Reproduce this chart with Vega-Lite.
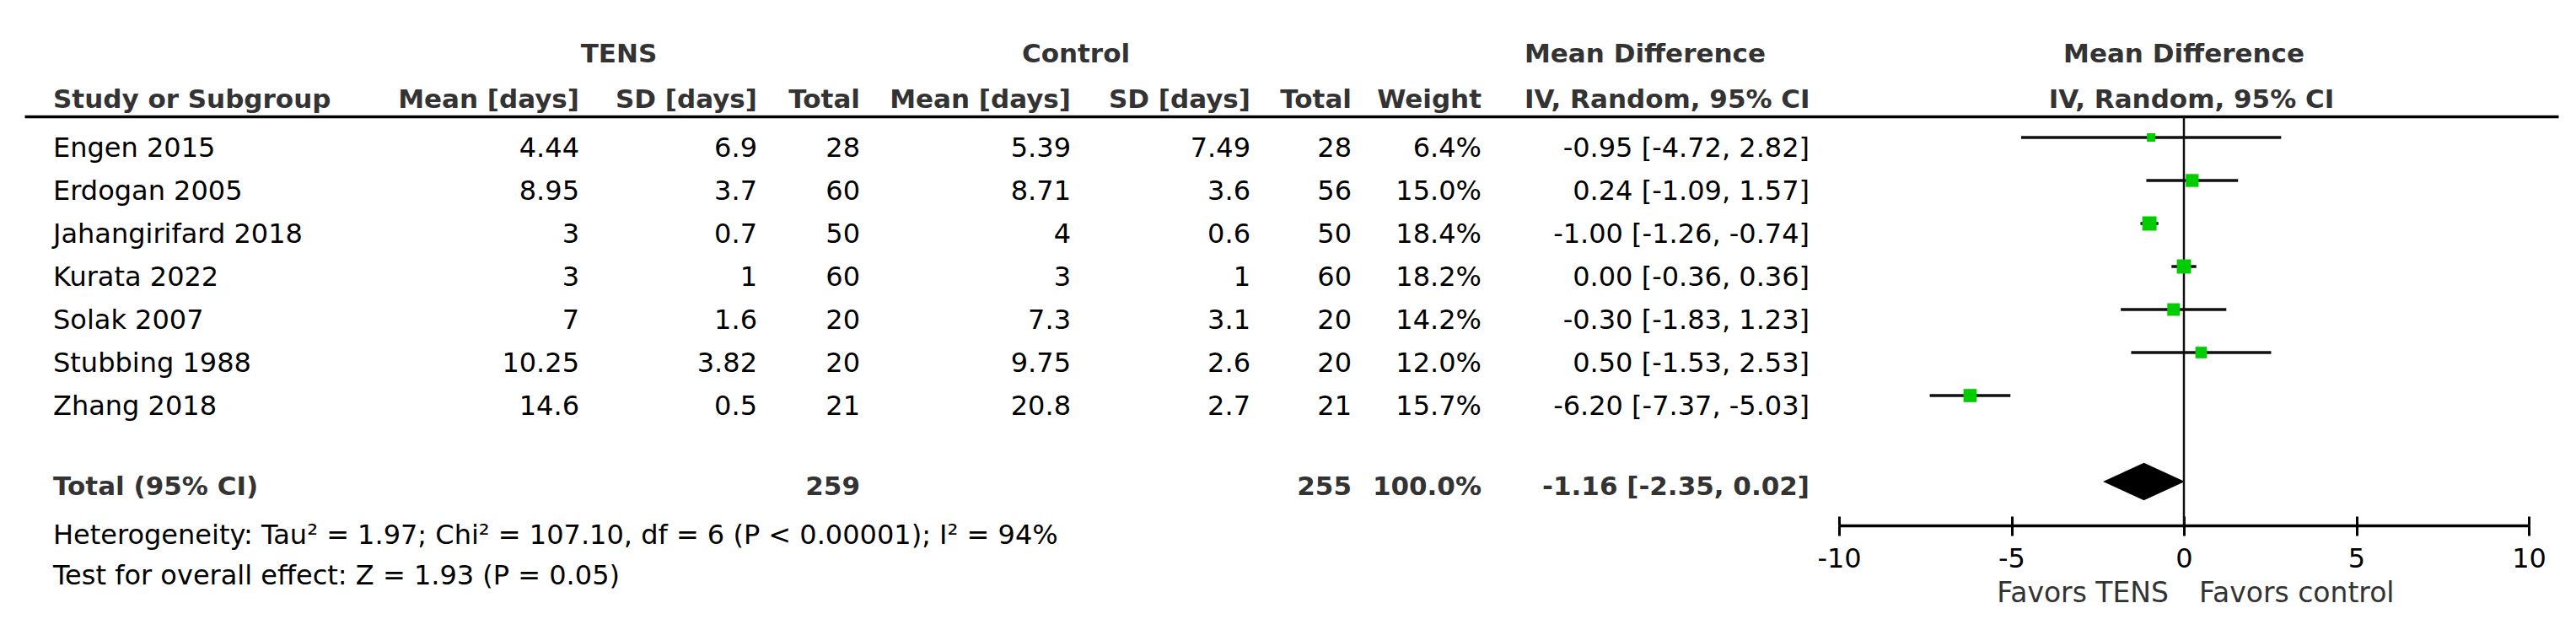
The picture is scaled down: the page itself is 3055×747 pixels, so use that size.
{
  "$schema": "https://vega.github.io/schema/vega-lite/v6.json",
  "width": 818,
  "height": 485,
  "autosize": {"type": "none"},
  "padding": {"left": 2181, "top": 138, "right": 56, "bottom": 124},
  "background": "white",
  "config": {
    "view": {"stroke": null},
    "locale": {"number": {"decimal": ".", "thousands": ",", "grouping": [3], "currency": ["$", ""], "minus": "-"}},
    "text": {"font": "DejaVu Sans", "fontSize": 32, "baseline": "alphabetic", "color": "#000000"}
  },
  "datasets": {
    "studies": [
      {"study": "Engen 2015", "mean_t": 4.44, "sd_t": 6.9, "n_t": 28, "mean_c": 5.39, "sd_c": 7.49, "n_c": 28, "weight": 0.064, "md": -0.95, "lo": -4.72, "hi": 2.82},
      {"study": "Erdogan 2005", "mean_t": 8.95, "sd_t": 3.7, "n_t": 60, "mean_c": 8.71, "sd_c": 3.6, "n_c": 56, "weight": 0.15, "md": 0.24, "lo": -1.09, "hi": 1.57},
      {"study": "Jahangirifard 2018", "mean_t": 3, "sd_t": 0.7, "n_t": 50, "mean_c": 4, "sd_c": 0.6, "n_c": 50, "weight": 0.184, "md": -1.0, "lo": -1.26, "hi": -0.74},
      {"study": "Kurata 2022", "mean_t": 3, "sd_t": 1, "n_t": 60, "mean_c": 3, "sd_c": 1, "n_c": 60, "weight": 0.182, "md": 0, "lo": -0.36, "hi": 0.36},
      {"study": "Solak 2007", "mean_t": 7, "sd_t": 1.6, "n_t": 20, "mean_c": 7.3, "sd_c": 3.1, "n_c": 20, "weight": 0.142, "md": -0.3, "lo": -1.83, "hi": 1.23},
      {"study": "Stubbing 1988", "mean_t": 10.25, "sd_t": 3.82, "n_t": 20, "mean_c": 9.75, "sd_c": 2.6, "n_c": 20, "weight": 0.12, "md": 0.5, "lo": -1.53, "hi": 2.53},
      {"study": "Zhang 2018", "mean_t": 14.6, "sd_t": 0.5, "n_t": 21, "mean_c": 20.8, "sd_c": 2.7, "n_c": 21, "weight": 0.157, "md": -6.2, "lo": -7.37, "hi": -5.03}
    ],
    "total": [
      {"study": "Total (95% CI)", "n_t": 259, "n_c": 255, "weight": 1, "md": -1.16, "lo": -2.35, "hi": 0.02}
    ],
    "notes": [
      {"line": "het", "text": "Heterogeneity: Tau² = 1.97; Chi² = 107.10, df = 6 (P < 0.00001); I² = 94%"},
      {"line": "test", "text": "Test for overall effect: Z = 1.93 (P = 0.05)"}
    ]
  },
  "resolve": {
    "scale": {"x": "independent", "y": "independent", "size": "independent"},
    "axis": {"x": "independent", "y": "independent"}
  },
  "layer": [
    {
      "data": {"values": [{"label": "Study or Subgroup"}]},
      "mark": {"type": "text", "align": "left", "fontWeight": "bold", "fontSize": 31, "color": "#333333", "dx": 34},
      "encoding": {
        "x": {"datum": 0, "type": "quantitative", "scale": {"domain": [0, 1], "range": [-2152, 853], "nice": false, "zero": false},
              "axis": {"orient": "top", "domain": true, "domainColor": "#000000", "domainWidth": 3.5, "ticks": false, "labels": false, "grid": false, "title": null}},
        "y": {"datum": "columns", "type": "nominal", "axis": null, "scale": {"type": "point", "domain": ["group", "columns"], "range": [-64, -10], "padding": 0}},
        "text": {"field": "label"}
      }
    },
    {
      "data": {"values": [{"label": "TENS"}]},
      "mark": {"type": "text", "align": "center", "fontWeight": "bold", "fontSize": 31, "color": "#333333"},
      "encoding": {
        "x": {"datum": "tens", "type": "nominal", "axis": null, "scale": {"type": "point", "domain": ["tens"], "range": [-1447, -1447]}},
        "y": {"datum": "group", "type": "nominal", "axis": null, "scale": {"type": "point", "domain": ["group", "columns"], "range": [-64, -10], "padding": 0}},
        "text": {"field": "label"}
      }
    },
    {
      "data": {"values": [{"label": "Control"}]},
      "mark": {"type": "text", "align": "center", "fontWeight": "bold", "fontSize": 31, "color": "#333333"},
      "encoding": {
        "x": {"datum": "control", "type": "nominal", "axis": null, "scale": {"type": "point", "domain": ["control"], "range": [-905, -905]}},
        "y": {"datum": "group", "type": "nominal", "axis": null, "scale": {"type": "point", "domain": ["group", "columns"], "range": [-64, -10], "padding": 0}},
        "text": {"field": "label"}
      }
    },
    {
      "data": {"values": [{"label": "Mean Difference"}]},
      "mark": {"type": "text", "align": "left", "fontWeight": "bold", "fontSize": 31, "color": "#333333"},
      "encoding": {
        "x": {"datum": "mdtext", "type": "nominal", "axis": null, "scale": {"type": "point", "domain": ["mdtext"], "range": [-373, -373]}},
        "y": {"datum": "group", "type": "nominal", "axis": null, "scale": {"type": "point", "domain": ["group", "columns"], "range": [-64, -10], "padding": 0}},
        "text": {"field": "label"}
      }
    },
    {
      "data": {"values": [{"label": "Mean Difference"}]},
      "mark": {"type": "text", "align": "center", "fontWeight": "bold", "fontSize": 31, "color": "#333333"},
      "encoding": {
        "x": {"datum": 0, "type": "quantitative", "axis": null, "scale": {"domain": [-10, 10], "nice": false, "zero": false}},
        "y": {"datum": "group", "type": "nominal", "axis": null, "scale": {"type": "point", "domain": ["group", "columns"], "range": [-64, -10], "padding": 0}},
        "text": {"field": "label"}
      }
    },
    {
      "data": {"values": [{"label": "Mean [days]"}]},
      "mark": {"type": "text", "align": "right", "fontWeight": "bold", "fontSize": 31, "color": "#333333"},
      "encoding": {
        "x": {"datum": "mean_t", "type": "nominal", "axis": null, "scale": {"type": "point", "domain": ["mean_t"], "range": [-1494, -1494]}},
        "y": {"datum": "columns", "type": "nominal", "axis": null, "scale": {"type": "point", "domain": ["group", "columns"], "range": [-64, -10], "padding": 0}},
        "text": {"field": "label"}
      }
    },
    {
      "data": {"values": [{"label": "SD [days]"}]},
      "mark": {"type": "text", "align": "right", "fontWeight": "bold", "fontSize": 31, "color": "#333333"},
      "encoding": {
        "x": {"datum": "sd_t", "type": "nominal", "axis": null, "scale": {"type": "point", "domain": ["sd_t"], "range": [-1283, -1283]}},
        "y": {"datum": "columns", "type": "nominal", "axis": null, "scale": {"type": "point", "domain": ["group", "columns"], "range": [-64, -10], "padding": 0}},
        "text": {"field": "label"}
      }
    },
    {
      "data": {"values": [{"label": "Total"}]},
      "mark": {"type": "text", "align": "right", "fontWeight": "bold", "fontSize": 31, "color": "#333333"},
      "encoding": {
        "x": {"datum": "n_t", "type": "nominal", "axis": null, "scale": {"type": "point", "domain": ["n_t"], "range": [-1161, -1161]}},
        "y": {"datum": "columns", "type": "nominal", "axis": null, "scale": {"type": "point", "domain": ["group", "columns"], "range": [-64, -10], "padding": 0}},
        "text": {"field": "label"}
      }
    },
    {
      "data": {"values": [{"label": "Mean [days]"}]},
      "mark": {"type": "text", "align": "right", "fontWeight": "bold", "fontSize": 31, "color": "#333333"},
      "encoding": {
        "x": {"datum": "mean_c", "type": "nominal", "axis": null, "scale": {"type": "point", "domain": ["mean_c"], "range": [-911, -911]}},
        "y": {"datum": "columns", "type": "nominal", "axis": null, "scale": {"type": "point", "domain": ["group", "columns"], "range": [-64, -10], "padding": 0}},
        "text": {"field": "label"}
      }
    },
    {
      "data": {"values": [{"label": "SD [days]"}]},
      "mark": {"type": "text", "align": "right", "fontWeight": "bold", "fontSize": 31, "color": "#333333"},
      "encoding": {
        "x": {"datum": "sd_c", "type": "nominal", "axis": null, "scale": {"type": "point", "domain": ["sd_c"], "range": [-698, -698]}},
        "y": {"datum": "columns", "type": "nominal", "axis": null, "scale": {"type": "point", "domain": ["group", "columns"], "range": [-64, -10], "padding": 0}},
        "text": {"field": "label"}
      }
    },
    {
      "data": {"values": [{"label": "Total"}]},
      "mark": {"type": "text", "align": "right", "fontWeight": "bold", "fontSize": 31, "color": "#333333"},
      "encoding": {
        "x": {"datum": "n_c", "type": "nominal", "axis": null, "scale": {"type": "point", "domain": ["n_c"], "range": [-578, -578]}},
        "y": {"datum": "columns", "type": "nominal", "axis": null, "scale": {"type": "point", "domain": ["group", "columns"], "range": [-64, -10], "padding": 0}},
        "text": {"field": "label"}
      }
    },
    {
      "data": {"values": [{"label": "Weight"}]},
      "mark": {"type": "text", "align": "right", "fontWeight": "bold", "fontSize": 31, "color": "#333333"},
      "encoding": {
        "x": {"datum": "weight", "type": "nominal", "axis": null, "scale": {"type": "point", "domain": ["weight"], "range": [-424, -424]}},
        "y": {"datum": "columns", "type": "nominal", "axis": null, "scale": {"type": "point", "domain": ["group", "columns"], "range": [-64, -10], "padding": 0}},
        "text": {"field": "label"}
      }
    },
    {
      "data": {"values": [{"label": "IV, Random, 95% CI"}]},
      "mark": {"type": "text", "align": "left", "fontWeight": "bold", "fontSize": 31, "color": "#333333"},
      "encoding": {
        "x": {"datum": "mdtext", "type": "nominal", "axis": null, "scale": {"type": "point", "domain": ["mdtext"], "range": [-373, -373]}},
        "y": {"datum": "columns", "type": "nominal", "axis": null, "scale": {"type": "point", "domain": ["group", "columns"], "range": [-64, -10], "padding": 0}},
        "text": {"field": "label"}
      }
    },
    {
      "data": {"values": [{"label": "IV, Random, 95% CI"}]},
      "mark": {"type": "text", "align": "center", "fontWeight": "bold", "fontSize": 31, "color": "#333333", "dx": 9},
      "encoding": {
        "x": {"datum": 0, "type": "quantitative", "axis": null, "scale": {"domain": [-10, 10], "nice": false, "zero": false}},
        "y": {"datum": "columns", "type": "nominal", "axis": null, "scale": {"type": "point", "domain": ["group", "columns"], "range": [-64, -10], "padding": 0}},
        "text": {"field": "label"}
      }
    },
    {
      "data": {"name": "studies"},
      "mark": {"type": "text", "align": "left", "dy": 23},
      "encoding": {
        "x": {"datum": "name", "type": "nominal", "axis": null, "scale": {"type": "point", "domain": ["name"], "range": [-2118, -2118]}},
        "y": {"field": "study", "type": "nominal", "axis": null, "scale": {"type": "point", "domain": ["Engen 2015", "Erdogan 2005", "Jahangirifard 2018", "Kurata 2022", "Solak 2007", "Stubbing 1988", "Zhang 2018", "", "Total (95% CI)"], "range": [25, 433], "padding": 0}},
        "text": {"field": "study"}
      }
    },
    {
      "data": {"name": "studies"},
      "mark": {"type": "text", "align": "right", "dy": 23},
      "encoding": {
        "x": {"datum": "mean_t", "type": "nominal", "axis": null, "scale": {"type": "point", "domain": ["mean_t"], "range": [-1494, -1494]}},
        "y": {"field": "study", "type": "nominal", "axis": null, "scale": {"type": "point", "domain": ["Engen 2015", "Erdogan 2005", "Jahangirifard 2018", "Kurata 2022", "Solak 2007", "Stubbing 1988", "Zhang 2018", "", "Total (95% CI)"], "range": [25, 433], "padding": 0}},
        "text": {"field": "mean_t", "type": "quantitative"}
      }
    },
    {
      "data": {"name": "studies"},
      "mark": {"type": "text", "align": "right", "dy": 23},
      "encoding": {
        "x": {"datum": "sd_t", "type": "nominal", "axis": null, "scale": {"type": "point", "domain": ["sd_t"], "range": [-1283, -1283]}},
        "y": {"field": "study", "type": "nominal", "axis": null, "scale": {"type": "point", "domain": ["Engen 2015", "Erdogan 2005", "Jahangirifard 2018", "Kurata 2022", "Solak 2007", "Stubbing 1988", "Zhang 2018", "", "Total (95% CI)"], "range": [25, 433], "padding": 0}},
        "text": {"field": "sd_t", "type": "quantitative"}
      }
    },
    {
      "data": {"name": "studies"},
      "mark": {"type": "text", "align": "right", "dy": 23},
      "encoding": {
        "x": {"datum": "n_t", "type": "nominal", "axis": null, "scale": {"type": "point", "domain": ["n_t"], "range": [-1161, -1161]}},
        "y": {"field": "study", "type": "nominal", "axis": null, "scale": {"type": "point", "domain": ["Engen 2015", "Erdogan 2005", "Jahangirifard 2018", "Kurata 2022", "Solak 2007", "Stubbing 1988", "Zhang 2018", "", "Total (95% CI)"], "range": [25, 433], "padding": 0}},
        "text": {"field": "n_t", "type": "quantitative"}
      }
    },
    {
      "data": {"name": "studies"},
      "mark": {"type": "text", "align": "right", "dy": 23},
      "encoding": {
        "x": {"datum": "mean_c", "type": "nominal", "axis": null, "scale": {"type": "point", "domain": ["mean_c"], "range": [-911, -911]}},
        "y": {"field": "study", "type": "nominal", "axis": null, "scale": {"type": "point", "domain": ["Engen 2015", "Erdogan 2005", "Jahangirifard 2018", "Kurata 2022", "Solak 2007", "Stubbing 1988", "Zhang 2018", "", "Total (95% CI)"], "range": [25, 433], "padding": 0}},
        "text": {"field": "mean_c", "type": "quantitative"}
      }
    },
    {
      "data": {"name": "studies"},
      "mark": {"type": "text", "align": "right", "dy": 23},
      "encoding": {
        "x": {"datum": "sd_c", "type": "nominal", "axis": null, "scale": {"type": "point", "domain": ["sd_c"], "range": [-698, -698]}},
        "y": {"field": "study", "type": "nominal", "axis": null, "scale": {"type": "point", "domain": ["Engen 2015", "Erdogan 2005", "Jahangirifard 2018", "Kurata 2022", "Solak 2007", "Stubbing 1988", "Zhang 2018", "", "Total (95% CI)"], "range": [25, 433], "padding": 0}},
        "text": {"field": "sd_c", "type": "quantitative"}
      }
    },
    {
      "data": {"name": "studies"},
      "mark": {"type": "text", "align": "right", "dy": 23},
      "encoding": {
        "x": {"datum": "n_c", "type": "nominal", "axis": null, "scale": {"type": "point", "domain": ["n_c"], "range": [-578, -578]}},
        "y": {"field": "study", "type": "nominal", "axis": null, "scale": {"type": "point", "domain": ["Engen 2015", "Erdogan 2005", "Jahangirifard 2018", "Kurata 2022", "Solak 2007", "Stubbing 1988", "Zhang 2018", "", "Total (95% CI)"], "range": [25, 433], "padding": 0}},
        "text": {"field": "n_c", "type": "quantitative"}
      }
    },
    {
      "data": {"name": "studies"},
      "mark": {"type": "text", "align": "right", "dy": 23},
      "encoding": {
        "x": {"datum": "weight", "type": "nominal", "axis": null, "scale": {"type": "point", "domain": ["weight"], "range": [-424, -424]}},
        "y": {"field": "study", "type": "nominal", "axis": null, "scale": {"type": "point", "domain": ["Engen 2015", "Erdogan 2005", "Jahangirifard 2018", "Kurata 2022", "Solak 2007", "Stubbing 1988", "Zhang 2018", "", "Total (95% CI)"], "range": [25, 433], "padding": 0}},
        "text": {"field": "weight", "type": "quantitative", "format": ".1%"}
      }
    },
    {
      "data": {"name": "studies"},
      "transform": [{"calculate": "format(datum.md, '.2f') + ' [' + format(datum.lo, '.2f') + ', ' + format(datum.hi, '.2f') + ']'", "as": "ci"}],
      "mark": {"type": "text", "align": "right", "dy": 23},
      "encoding": {
        "x": {"datum": "ci", "type": "nominal", "axis": null, "scale": {"type": "point", "domain": ["ci"], "range": [-35, -35]}},
        "y": {"field": "study", "type": "nominal", "axis": null, "scale": {"type": "point", "domain": ["Engen 2015", "Erdogan 2005", "Jahangirifard 2018", "Kurata 2022", "Solak 2007", "Stubbing 1988", "Zhang 2018", "", "Total (95% CI)"], "range": [25, 433], "padding": 0}},
        "text": {"field": "ci", "type": "nominal"}
      }
    },
    {
      "data": {"name": "total"},
      "mark": {"type": "text", "align": "left", "dy": 16, "fontWeight": "bold", "fontSize": 31, "color": "#333333"},
      "encoding": {
        "x": {"datum": "name", "type": "nominal", "axis": null, "scale": {"type": "point", "domain": ["name"], "range": [-2118, -2118]}},
        "y": {"field": "study", "type": "nominal", "axis": null, "scale": {"type": "point", "domain": ["Engen 2015", "Erdogan 2005", "Jahangirifard 2018", "Kurata 2022", "Solak 2007", "Stubbing 1988", "Zhang 2018", "", "Total (95% CI)"], "range": [25, 433], "padding": 0}},
        "text": {"field": "study"}
      }
    },
    {
      "data": {"name": "total"},
      "mark": {"type": "text", "align": "right", "dy": 16, "fontWeight": "bold", "fontSize": 31, "color": "#333333"},
      "encoding": {
        "x": {"datum": "n_t", "type": "nominal", "axis": null, "scale": {"type": "point", "domain": ["n_t"], "range": [-1161, -1161]}},
        "y": {"field": "study", "type": "nominal", "axis": null, "scale": {"type": "point", "domain": ["Engen 2015", "Erdogan 2005", "Jahangirifard 2018", "Kurata 2022", "Solak 2007", "Stubbing 1988", "Zhang 2018", "", "Total (95% CI)"], "range": [25, 433], "padding": 0}},
        "text": {"field": "n_t", "type": "quantitative"}
      }
    },
    {
      "data": {"name": "total"},
      "mark": {"type": "text", "align": "right", "dy": 16, "fontWeight": "bold", "fontSize": 31, "color": "#333333"},
      "encoding": {
        "x": {"datum": "n_c", "type": "nominal", "axis": null, "scale": {"type": "point", "domain": ["n_c"], "range": [-578, -578]}},
        "y": {"field": "study", "type": "nominal", "axis": null, "scale": {"type": "point", "domain": ["Engen 2015", "Erdogan 2005", "Jahangirifard 2018", "Kurata 2022", "Solak 2007", "Stubbing 1988", "Zhang 2018", "", "Total (95% CI)"], "range": [25, 433], "padding": 0}},
        "text": {"field": "n_c", "type": "quantitative"}
      }
    },
    {
      "data": {"name": "total"},
      "mark": {"type": "text", "align": "right", "dy": 16, "fontWeight": "bold", "fontSize": 31, "color": "#333333"},
      "encoding": {
        "x": {"datum": "weight", "type": "nominal", "axis": null, "scale": {"type": "point", "domain": ["weight"], "range": [-424, -424]}},
        "y": {"field": "study", "type": "nominal", "axis": null, "scale": {"type": "point", "domain": ["Engen 2015", "Erdogan 2005", "Jahangirifard 2018", "Kurata 2022", "Solak 2007", "Stubbing 1988", "Zhang 2018", "", "Total (95% CI)"], "range": [25, 433], "padding": 0}},
        "text": {"field": "weight", "type": "quantitative", "format": ".1%"}
      }
    },
    {
      "data": {"name": "total"},
      "transform": [{"calculate": "format(datum.md, '.2f') + ' [' + format(datum.lo, '.2f') + ', ' + format(datum.hi, '.2f') + ']'", "as": "ci"}],
      "mark": {"type": "text", "align": "right", "dy": 16, "fontWeight": "bold", "fontSize": 31, "color": "#333333"},
      "encoding": {
        "x": {"datum": "ci", "type": "nominal", "axis": null, "scale": {"type": "point", "domain": ["ci"], "range": [-35, -35]}},
        "y": {"field": "study", "type": "nominal", "axis": null, "scale": {"type": "point", "domain": ["Engen 2015", "Erdogan 2005", "Jahangirifard 2018", "Kurata 2022", "Solak 2007", "Stubbing 1988", "Zhang 2018", "", "Total (95% CI)"], "range": [25, 433], "padding": 0}},
        "text": {"field": "ci", "type": "nominal"}
      }
    },
    {
      "data": {"name": "notes"},
      "mark": {"type": "text", "align": "left"},
      "encoding": {
        "x": {"datum": "name", "type": "nominal", "axis": null, "scale": {"type": "point", "domain": ["name"], "range": [-2118, -2118]}},
        "y": {"field": "line", "type": "nominal", "axis": null, "scale": {"type": "point", "domain": ["het", "test"], "range": [507, 555], "padding": 0}},
        "text": {"field": "text"}
      }
    },
    {
      "data": {"name": "total"},
      "mark": {"type": "rule", "strokeWidth": 2.5, "color": "#111111"},
      "encoding": {
        "x": {"datum": 0, "type": "quantitative", "scale": {"domain": [-10, 10], "nice": false, "zero": false},
              "axis": {"orient": "bottom", "offset": -11, "domain": false, "labels": false, "ticks": true, "tickSize": 11, "tickWidth": 3, "tickColor": "#000000", "values": [-10, -5, 0, 5, 10], "grid": false, "title": null}}
      }
    },
    {
      "data": {"name": "studies"},
      "mark": {"type": "rule", "strokeWidth": 3.5, "color": "#111111"},
      "encoding": {
        "x": {"field": "lo", "type": "quantitative", "scale": {"domain": [-10, 10], "nice": false, "zero": false},
              "axis": {"orient": "bottom", "domain": true, "domainColor": "#000000", "domainWidth": 3.5, "ticks": true, "tickSize": 12, "tickWidth": 3, "tickColor": "#000000", "values": [-10, -5, 0, 5, 10], "labelFont": "DejaVu Sans", "labelFontSize": 32, "labelColor": "#000000", "labelBaseline": "alphabetic", "labelPadding": 37, "labelFlush": false, "labelOverlap": false, "grid": false, "title": null}},
        "x2": {"field": "hi"},
        "y": {"field": "study", "type": "nominal", "axis": null, "scale": {"type": "point", "domain": ["Engen 2015", "Erdogan 2005", "Jahangirifard 2018", "Kurata 2022", "Solak 2007", "Stubbing 1988", "Zhang 2018", "", "Total (95% CI)"], "range": [25, 433], "padding": 0}}
      }
    },
    {
      "data": {"name": "studies"},
      "mark": {"type": "point", "shape": "square", "filled": true, "color": "#00cc00", "opacity": 1, "strokeWidth": 0},
      "encoding": {
        "x": {"field": "md", "type": "quantitative", "axis": null, "scale": {"domain": [-10, 10], "nice": false, "zero": false}},
        "y": {"field": "study", "type": "nominal", "axis": null, "scale": {"type": "point", "domain": ["Engen 2015", "Erdogan 2005", "Jahangirifard 2018", "Kurata 2022", "Solak 2007", "Stubbing 1988", "Zhang 2018", "", "Total (95% CI)"], "range": [25, 433], "padding": 0}},
        "size": {"field": "weight", "type": "quantitative", "legend": null, "scale": {"domain": [0, 0.2], "range": [0, 312]}}
      }
    },
    {
      "data": {"name": "total"},
      "mark": {"type": "point", "shape": "M-1,0L0,-0.46L1,0L0,0.46Z", "size": 9400, "filled": true, "color": "#000000", "opacity": 1, "strokeWidth": 0},
      "encoding": {
        "x": {"field": "md", "type": "quantitative", "axis": null, "scale": {"domain": [-10, 10], "nice": false, "zero": false}},
        "y": {"field": "study", "type": "nominal", "axis": null, "scale": {"type": "point", "domain": ["Engen 2015", "Erdogan 2005", "Jahangirifard 2018", "Kurata 2022", "Solak 2007", "Stubbing 1988", "Zhang 2018", "", "Total (95% CI)"], "range": [25, 433], "padding": 0}}
      }
    },
    {
      "data": {"values": [{"label": "Favors TENS"}]},
      "mark": {"type": "text", "align": "right", "dx": -18, "fontSize": 33, "color": "#333333"},
      "encoding": {
        "x": {"datum": 0, "type": "quantitative", "axis": null, "scale": {"domain": [-10, 10], "nice": false, "zero": false}},
        "y": {"datum": "favors", "type": "nominal", "axis": null, "scale": {"type": "point", "domain": ["favors"], "range": [576, 576]}},
        "text": {"field": "label"}
      }
    },
    {
      "data": {"values": [{"label": "Favors control"}]},
      "mark": {"type": "text", "align": "left", "dx": 18, "fontSize": 33, "color": "#333333"},
      "encoding": {
        "x": {"datum": 0, "type": "quantitative", "axis": null, "scale": {"domain": [-10, 10], "nice": false, "zero": false}},
        "y": {"datum": "favors", "type": "nominal", "axis": null, "scale": {"type": "point", "domain": ["favors"], "range": [576, 576]}},
        "text": {"field": "label"}
      }
    }
  ]
}
